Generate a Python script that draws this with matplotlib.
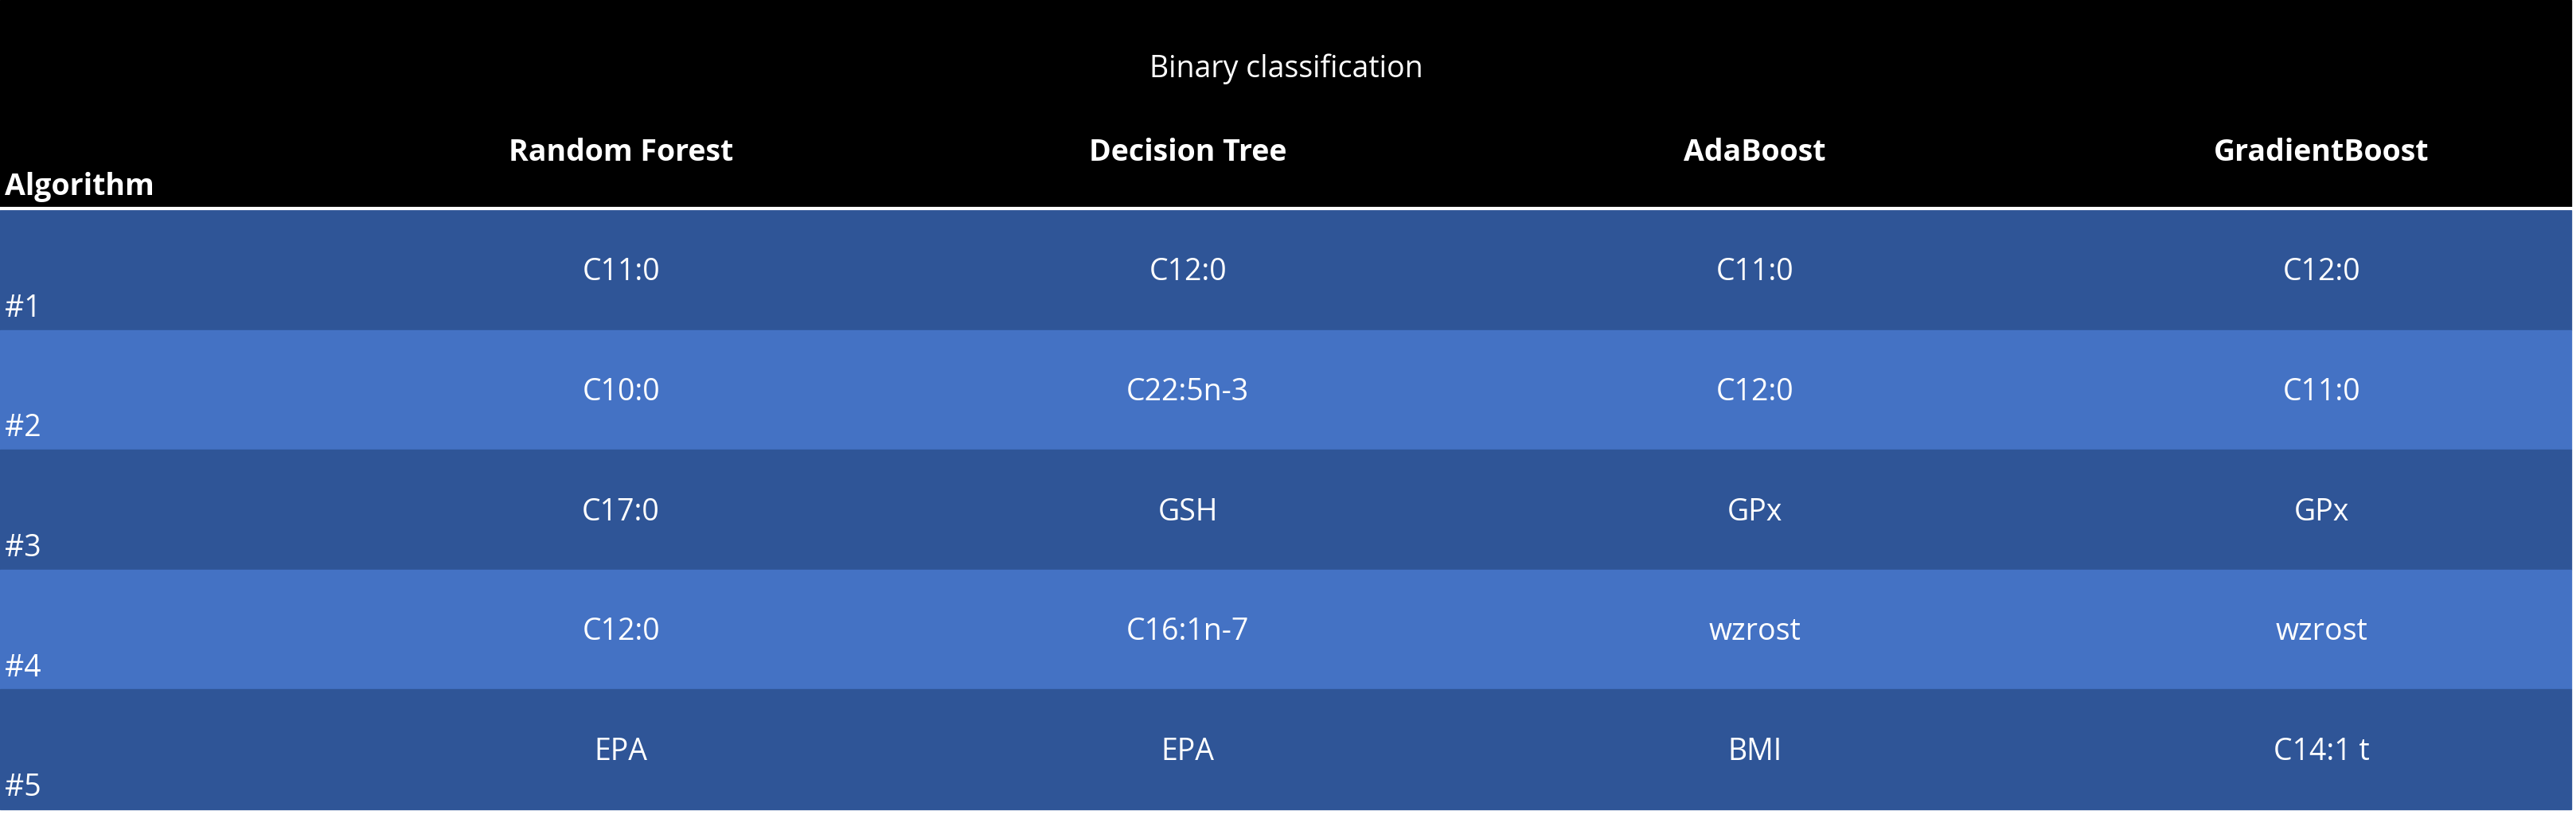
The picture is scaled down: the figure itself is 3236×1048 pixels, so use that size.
import matplotlib.pyplot as plt
from matplotlib.patches import Rectangle

title = "Binary classification"
algorithms = ["Random Forest", "Decision Tree", "AdaBoost", "GradientBoost"]
ranks = ["#1", "#2", "#3", "#4", "#5"]
table = [
    ["C11:0", "C12:0", "C11:0", "C12:0"],
    ["C10:0", "C22:5n-3", "C12:0", "C11:0"],
    ["C17:0", "GSH", "GPx", "GPx"],
    ["C12:0", "C16:1n-7", "wzrost", "wzrost"],
    ["EPA", "EPA", "BMI", "C14:1 t"],
]

plt.rcParams['font.family'] = ['Open Sans', 'DejaVu Sans']
fig = plt.figure(figsize=(32.36, 10.48), dpi=100)
ax = fig.add_axes([0, 0, 1, 1])
ax.set_xlim(0, 1568)
ax.set_ylim(508, 0)
ax.axis('off')

W = 1565
ax.add_patch(Rectangle((0, 0), W, 127, color='black'))
ax.plot([0, W], [127, 127], color='white', lw=3)
ax.text(783, 42, title, color='white', fontsize=27, ha='center', va='center')
ax.text(3, 114, "Algorithm", color='white', fontsize=27, weight='bold', ha='left', va='center')
centers = [378, 723, 1068, 1413]
for c, a in zip(centers, algorithms):
    ax.text(c, 93, a, color='white', fontsize=27, weight='bold', ha='center', va='center')

row_h = 73
for i, (r, vals) in enumerate(zip(ranks, table)):
    top = 128 + i * row_h
    color = '#2F5597' if i % 2 == 0 else '#4472C4'
    ax.add_patch(Rectangle((0, top), W, row_h, color=color))
    ax.text(3, top + 60, r, color='white', fontsize=27, ha='left', va='center')
    for c, v in zip(centers, vals):
        ax.text(c, top + 38, v, color='white', fontsize=27, ha='center', va='center')

fig.savefig('out.png', dpi=100)
